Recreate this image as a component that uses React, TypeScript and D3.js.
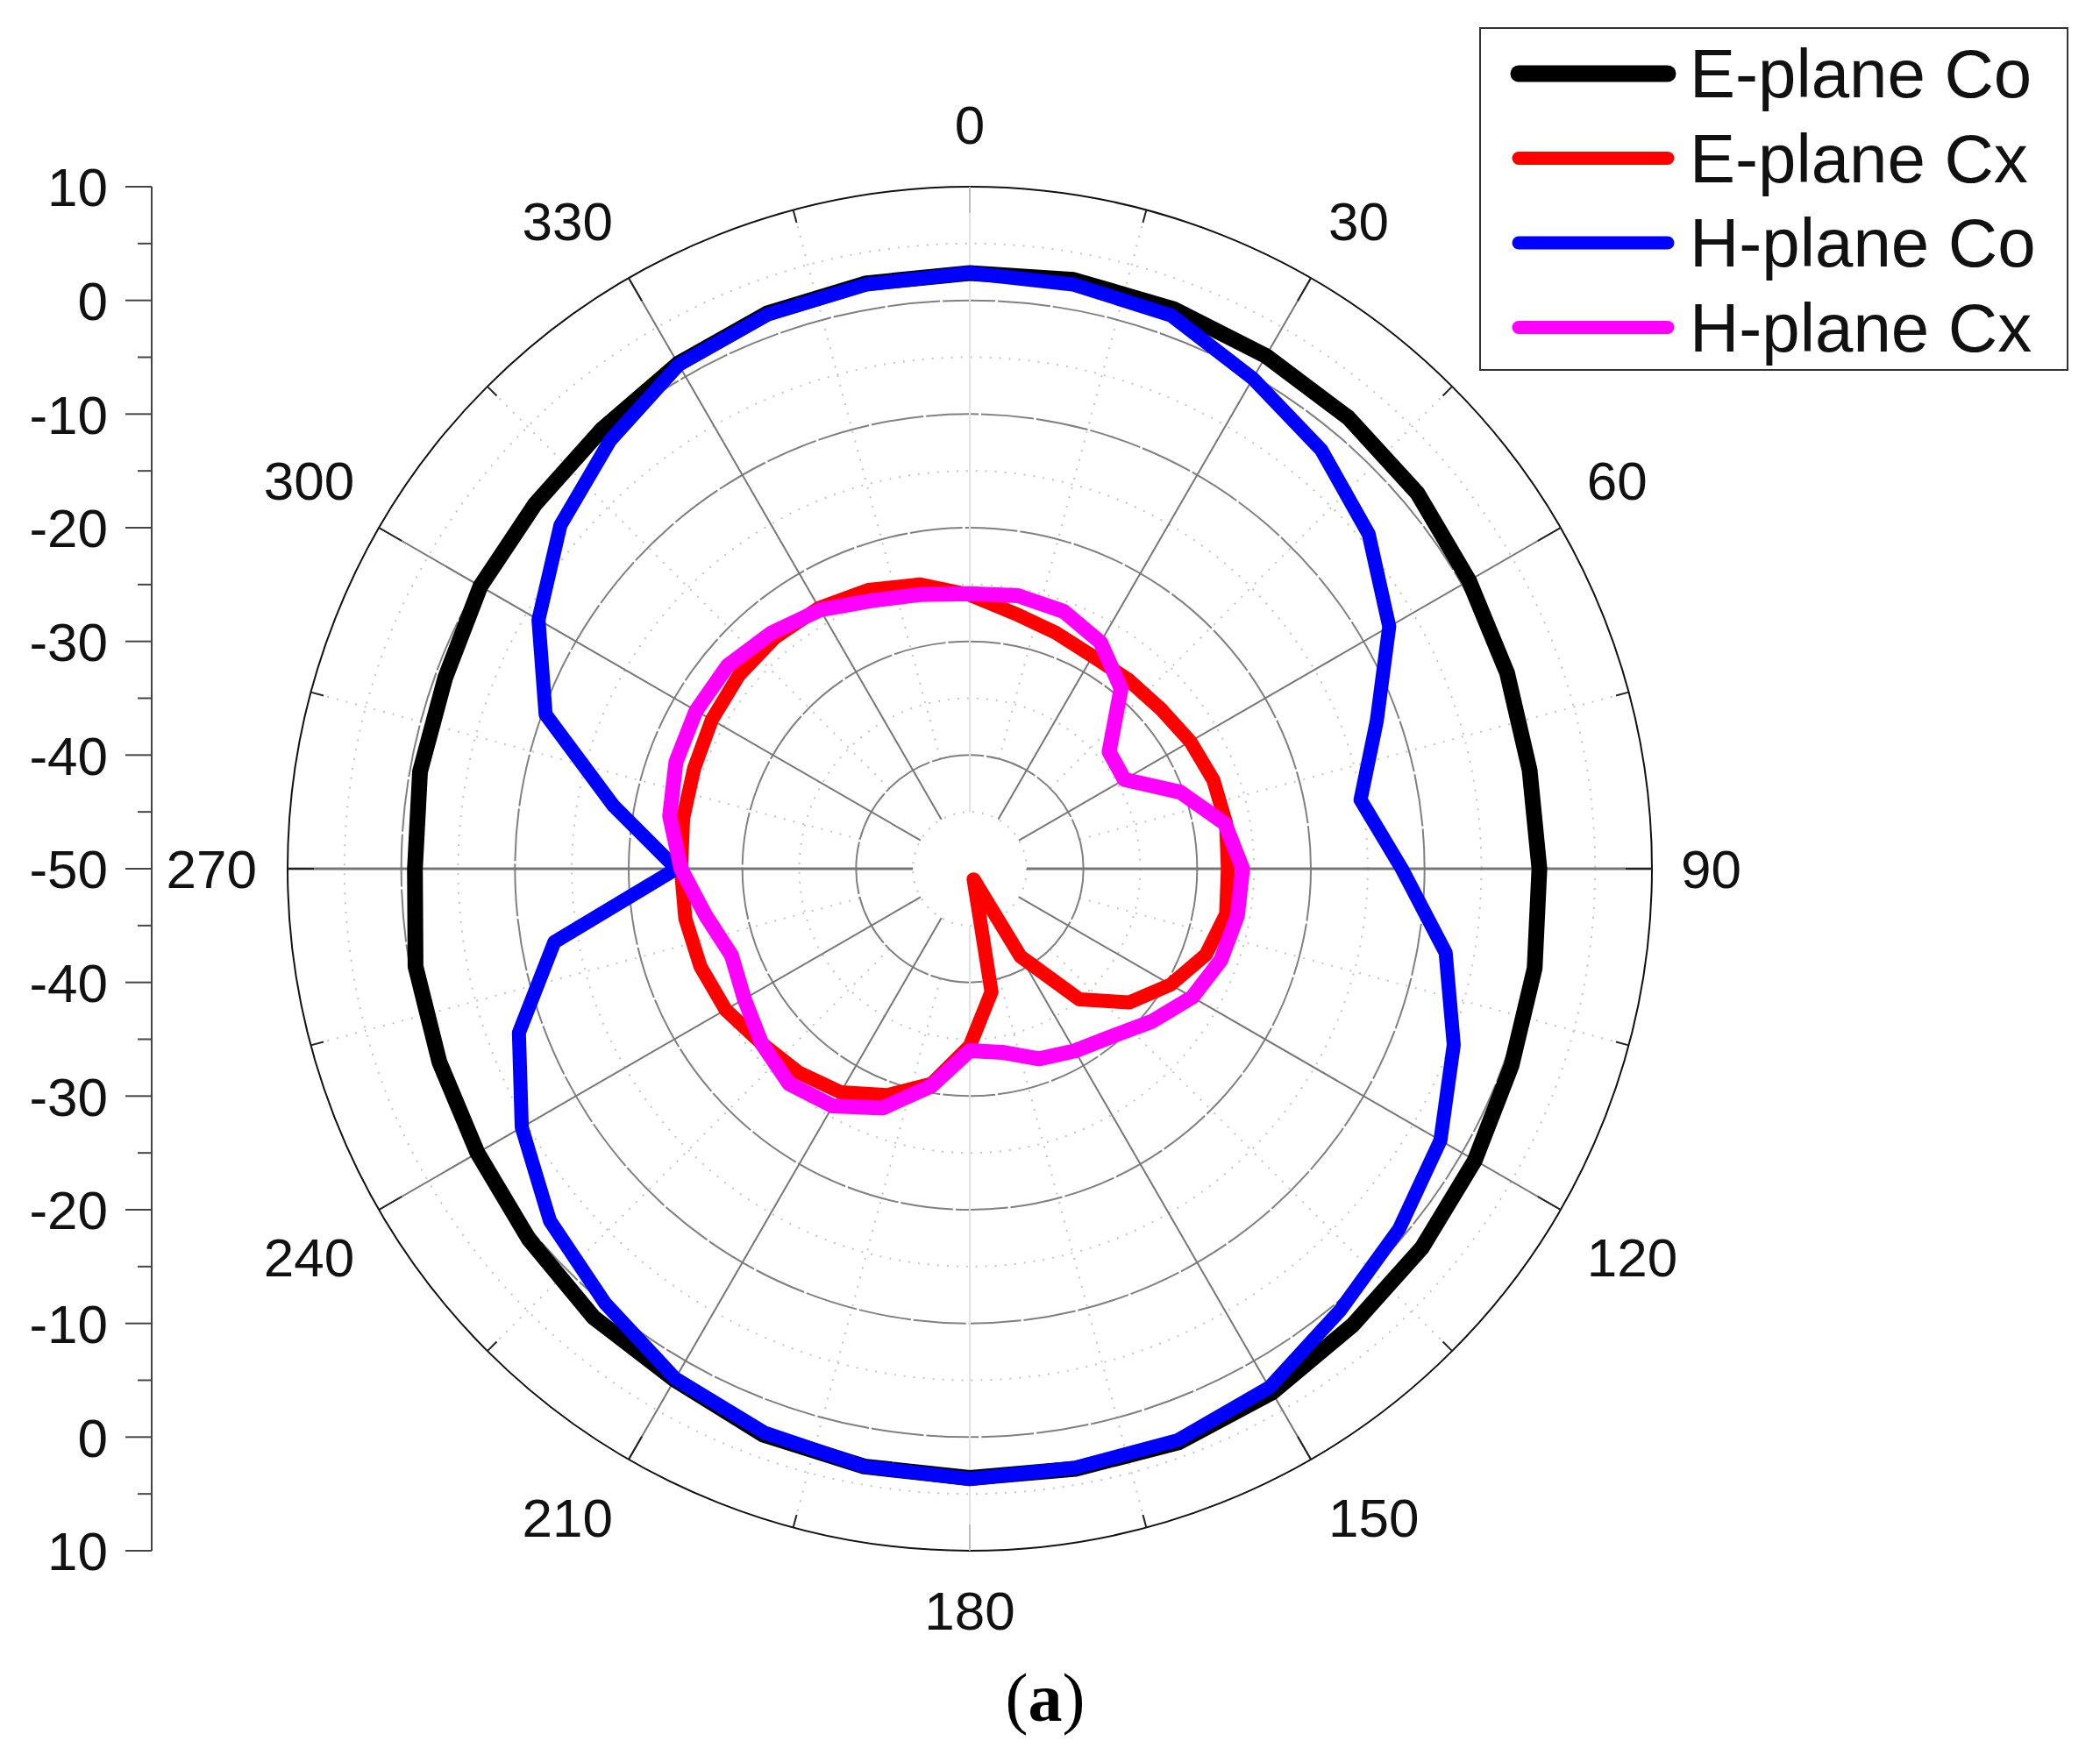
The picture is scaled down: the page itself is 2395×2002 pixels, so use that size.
import React, { useEffect, useRef } from 'react';
import * as d3 from 'd3';

const angles = [
  0, 10, 20, 30, 40, 50, 60, 70, 80, 90, 100, 110, 120, 130, 140, 150, 160, 170,
  180, 190, 200, 210, 220, 230, 240, 250, 260, 270, 280, 290, 300, 310, 320, 330, 340, 350,
];
const ePlaneCo = [
  2.4, 2.6, 2.4, 2.1, 1.8, 1.4, 0.7, 0.3, 0, 0.1, 0.45, 0.7, 1.3, 1.9, 2.4, 3.2, 3.7, 3.6,
  3.6, 3.4, 3, 1.9, 1.5, 0.65, 0, -0.35, -0.5, -1.2, -0.9, -0.9, -0.3, -0.1, 0.4, 1.3, 2, 2.3,
];
const ePlaneCx = [
  -25.9, -27.2, -27.9, -28.4, -28.3, -28.1, -27.6, -27.2, -27.1, -27.3, -27.1, -27.9, -29.6, -31.7, -35, -41.1, -49, -39,
  -34.4, -30.8, -28.8, -27.3, -26.6, -26.1, -25.2, -24.8, -24.6, -24.6, -24.4, -24.2, -23.8, -23.5, -23.4, -23.5, -23.9, -24.6,
];
const hPlaneCo = [
  2.4, 2.2, 1.8, -0.2, -1.9, -4.2, -7.4, -11.9, -15.1, -12, -7.5, -4.7, -2.2, -0.7, 0.7, 2.7, 3.5, 3.5,
  3.7, 3.4, 2.8, 1.8, -0.1, -1.8, -4.5, -7.8, -12.9, -24.2, -18.2, -10.3, -6.2, -3, -0.8, 1.2, 1.9, 2.2,
];
const hPlaneCx = [
  -25.8, -25.6, -25.9, -27, -29.3, -34, -34.3, -30.3, -27.2, -26, -26.1, -26.5, -27.4, -29.1, -30.7, -31.5, -32.2, -33.6,
  -34, -30.6, -27.6, -25.9, -25.3, -26.1, -27.1, -27.7, -26.4, -24.6, -23.2, -22.5, -22.2, -22.2, -22.9, -23.7, -24.9, -25.5,
];

const seriesNames = ['E-plane Co', 'E-plane Cx', 'H-plane Co', 'H-plane Cx'];
const seriesValues = [ePlaneCo, ePlaneCx, hPlaneCo, hPlaneCx];
const seriesColors = ['#000000', '#ff0000', '#0000ff', '#ff00ff'];
const seriesWidths = [18, 16, 16, 17];

const angleLabels = [0, 30, 60, 90, 120, 150, 180, 210, 240, 270, 300, 330];
const axisLabels = ['10', '0', '-10', '-20', '-30', '-40', '-50', '-40', '-30', '-20', '-10', '0', '10'];
const majorRings = [-40, -30, -20, -10, 0];
const minorRings = [-45, -35, -25, -15, -5, 5];
const minorSpokes = [15, 45, 75, 105, 135, 165, 195, 225, 255, 285, 315, 345];

const FONT = '"Liberation Sans", Arial, sans-serif';

export default function App() {
  const svgRef = useRef<SVGSVGElement>(null);

  useEffect(() => {
    if (!svgRef.current) return;
    d3.select(svgRef.current).selectAll('*').remove();

    const width = 2395;
    const height = 2002;
    const cx = 1106;
    const cy = 991;
    const R = 778;

    const svg = d3.select(svgRef.current).attr('width', width).attr('height', height);
    svg.append('rect').attr('width', width).attr('height', height).attr('fill', '#fff');

    const r = d3.scaleLinear().domain([-50, 10]).range([0, R]);
    const toRad = (deg: number) => (deg * Math.PI) / 180;
    const pt = (deg: number, rad: number): [number, number] => [
      cx + rad * Math.sin(toRad(deg)),
      cy - rad * Math.cos(toRad(deg)),
    ];

    const plot = svg.append('g');

    // Minor grid
    plot
      .selectAll('.minor-ring')
      .data(minorRings)
      .enter()
      .append('circle')
      .attr('cx', cx)
      .attr('cy', cy)
      .attr('r', (d) => r(d))
      .attr('fill', 'none')
      .attr('stroke', '#c4c4c4')
      .attr('stroke-width', 2)
      .attr('stroke-dasharray', '2 9');

    plot
      .selectAll('.minor-spoke')
      .data(minorSpokes)
      .enter()
      .append('line')
      .attr('x1', (d) => pt(d, r(-40))[0])
      .attr('y1', (d) => pt(d, r(-40))[1])
      .attr('x2', (d) => pt(d, R)[0])
      .attr('y2', (d) => pt(d, R)[1])
      .attr('stroke', '#c4c4c4')
      .attr('stroke-width', 2)
      .attr('stroke-dasharray', '2 9');

    // Major grid
    plot
      .selectAll('.major-ring')
      .data(majorRings)
      .enter()
      .append('circle')
      .attr('cx', cx)
      .attr('cy', cy)
      .attr('r', (d) => r(d))
      .attr('fill', 'none')
      .attr('stroke', '#808080')
      .attr('stroke-width', 2)
      .attr('stroke-dasharray', '60 3');

    plot
      .selectAll('.major-spoke')
      .data(angleLabels)
      .enter()
      .append('line')
      .attr('x1', (d) => pt(d, r(-45))[0])
      .attr('y1', (d) => pt(d, r(-45))[1])
      .attr('x2', (d) => pt(d, R)[0])
      .attr('y2', (d) => pt(d, R)[1])
      .attr('stroke', (d) => (d % 180 === 0 ? '#e4e4e4' : '#777'))
      .attr('stroke-width', (d) => (d % 180 === 90 ? 3 : 2));

    // Outer ring and its ticks
    plot
      .append('circle')
      .attr('cx', cx)
      .attr('cy', cy)
      .attr('r', R)
      .attr('fill', 'none')
      .attr('stroke', '#111')
      .attr('stroke-width', 2);

    plot
      .selectAll('.major-tick')
      .data(angleLabels)
      .enter()
      .append('line')
      .attr('x1', (d) => pt(d, R - 30)[0])
      .attr('y1', (d) => pt(d, R - 30)[1])
      .attr('x2', (d) => pt(d, R)[0])
      .attr('y2', (d) => pt(d, R)[1])
      .attr('stroke', (d) => (d % 180 === 0 ? '#bbb' : '#222'))
      .attr('stroke-width', 2);

    plot
      .selectAll('.minor-tick')
      .data(minorSpokes)
      .enter()
      .append('line')
      .attr('x1', (d) => pt(d, R - 15)[0])
      .attr('y1', (d) => pt(d, R - 15)[1])
      .attr('x2', (d) => pt(d, R)[0])
      .attr('y2', (d) => pt(d, R)[1])
      .attr('stroke', '#222')
      .attr('stroke-width', 2);

    // Angle labels sit off the end of their spoke, on the outer side
    svg
      .selectAll('.angle-label')
      .data(angleLabels)
      .enter()
      .append('text')
      .attr('x', (d) => {
        if (d === 90) return cx + R + 33;
        if (d === 270) return cx - R - 35;
        if (d % 180 === 0) return cx;
        const gap = d % 180 === 30 || d % 180 === 150 ? 20 : 30;
        return pt(d, R)[0] + (d < 180 ? gap : -gap + 2);
      })
      .attr('y', (d) => {
        if (d % 180 === 90) return cy;
        if (d === 0) return cy - 849;
        if (d === 180) return cy + 846;
        const lift = d % 180 === 30 || d % 180 === 150 ? 66 : 54;
        return pt(d, R)[1] + (d < 90 || d > 270 ? -lift : lift);
      })
      .attr('dy', '0.36em')
      .attr('text-anchor', (d) => {
        if (d % 180 === 0) return 'middle';
        return d < 180 ? 'start' : 'end';
      })
      .attr('font-family', FONT)
      .attr('font-size', 62)
      .attr('fill', '#111')
      .text((d) => d);

    // Series
    const line = d3
      .lineRadial<number>()
      .angle((_, i) => toRad(angles[i]))
      .radius((d) => r(d))
      .curve(d3.curveLinearClosed);

    svg
      .append('g')
      .attr('transform', `translate(${cx},${cy})`)
      .selectAll('path')
      .data(seriesValues)
      .enter()
      .append('path')
      .attr('d', (d) => line(d))
      .attr('fill', 'none')
      .attr('stroke', (_, i) => seriesColors[i])
      .attr('stroke-width', (_, i) => seriesWidths[i])
      .attr('stroke-linejoin', 'round');

    // Left axis
    const y = d3
      .scalePoint<number>()
      .domain(d3.range(axisLabels.length))
      .range([cy - R, cy + R]);
    const axisX = 173;
    const axis = svg.append('g');
    axis
      .append('line')
      .attr('x1', axisX)
      .attr('x2', axisX)
      .attr('y1', cy - R)
      .attr('y2', cy + R)
      .attr('stroke', '#444')
      .attr('stroke-width', 2);
    axis
      .selectAll('.tick-major')
      .data(axisLabels)
      .enter()
      .append('line')
      .attr('x1', axisX - 30)
      .attr('x2', axisX)
      .attr('y1', (_, i) => y(i) as number)
      .attr('y2', (_, i) => y(i) as number)
      .attr('stroke', '#444')
      .attr('stroke-width', 2);
    axis
      .selectAll('.tick-minor')
      .data(axisLabels.slice(1))
      .enter()
      .append('line')
      .attr('x1', axisX - 16)
      .attr('x2', axisX)
      .attr('y1', (_, i) => (y(i) as number) + y.step() / 2)
      .attr('y2', (_, i) => (y(i) as number) + y.step() / 2)
      .attr('stroke', '#444')
      .attr('stroke-width', 2);
    axis
      .selectAll('text')
      .data(axisLabels)
      .enter()
      .append('text')
      .attr('x', 123)
      .attr('y', (_, i) => y(i) as number)
      .attr('dy', '0.36em')
      .attr('text-anchor', 'end')
      .attr('font-family', FONT)
      .attr('font-size', 62)
      .attr('fill', '#111')
      .text((d) => d);

    // Legend
    const legend = svg.append('g');
    legend
      .append('rect')
      .attr('x', 1697 - 9)
      .attr('y', 32)
      .attr('width', 682 - 12)
      .attr('height', 390)
      .attr('fill', '#fff')
      .attr('stroke', '#333')
      .attr('stroke-width', 2);
    const rows = legend
      .selectAll('.row')
      .data(seriesNames)
      .enter()
      .append('g')
      .attr('transform', (_, i) => `translate(0,${84 + i * 96.5})`);
    rows
      .append('line')
      .attr('x1', 1738 - 6)
      .attr('x2', 1914 - 12)
      .attr('stroke', (_, i) => seriesColors[i])
      .attr('stroke-width', (_, i) => (i === 0 ? 19 : 15))
      .attr('stroke-linecap', 'round');
    rows
      .append('text')
      .attr('x', 1927)
      .attr('y', -1)
      .attr('dy', '0.36em')
      .attr('font-family', FONT)
      .attr('font-size', 78)
      .attr('fill', '#111')
      .text((d) => d);

    // Caption
    const caption = svg
      .append('text')
      .attr('x', 1192)
      .attr('y', 1963)
      .attr('text-anchor', 'middle')
      .attr('font-family', '"Liberation Serif", serif')
      .attr('font-size', 78)
      .attr('fill', '#000');
    caption.append('tspan').text('(');
    caption.append('tspan').attr('font-weight', 'bold').text('a');
    caption.append('tspan').text(')');
  }, []);

  return <svg ref={svgRef} style={{ position: 'absolute', left: 0, top: 0, display: 'block' }} />;
}
